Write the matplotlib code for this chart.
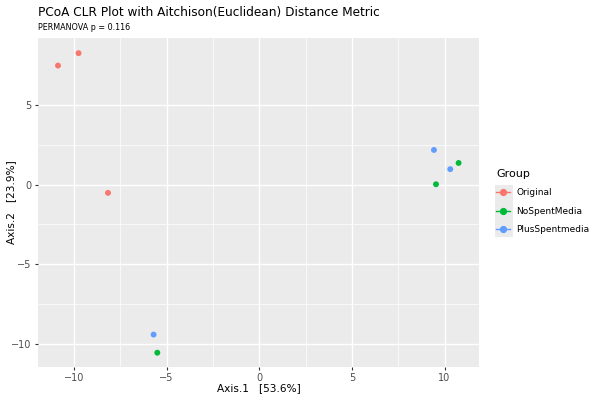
import matplotlib
matplotlib.use('Agg')
import matplotlib.pyplot as plt
from matplotlib.lines import Line2D
from matplotlib.patches import Rectangle

# ================= data =================
groups = ['Original', 'NoSpentMedia', 'PlusSpentmedia']
colors = ['#F8766D', '#00BA38', '#619CFF']
orig_x = [-10.86, -9.75, -8.16]
orig_y = [7.50, 8.28, -0.51]
nospent_x = [10.76, 9.54, -5.50]
nospent_y = [1.37, 0.03, -10.57]
plus_x = [9.43, 10.31, -5.70]
plus_y = [2.19, 0.98, -9.43]
xticks = [-10, -5, 0, 5, 10]
yticks = [-10, -5, 0, 5]
# ========================================

fig = plt.figure(figsize=(6, 4), dpi=100)
ax = fig.add_axes([0.0633, 0.0825, 0.7350, 0.8235])
ax.set_facecolor('#EBEBEB')
for s in ax.spines.values():
    s.set_visible(False)

ax.set_xlim(-11.94, 11.86)
ax.set_ylim(-11.47, 9.26)
ax.set_xticks(xticks)
ax.set_yticks(yticks)
ax.set_xticks([-7.5, -2.5, 2.5, 7.5], minor=True)
ax.set_yticks([-7.5, -2.5, 2.5], minor=True)
ax.grid(which='major', color='white', lw=1.0)
ax.grid(which='minor', color='white', lw=0.5)
ax.set_axisbelow(True)
ax.tick_params(which='major', length=2.5, width=0.8, color='#333333',
               labelsize=7, labelcolor='#4D4D4D', pad=2)
ax.tick_params(which='minor', length=0)

for xs, ys, c in [(orig_x, orig_y, colors[0]),
                  (nospent_x, nospent_y, colors[1]),
                  (plus_x, plus_y, colors[2])]:
    ax.scatter(xs, ys, s=18, color=c, edgecolors='none', zorder=3)

ax.set_xlabel('Axis.1   [53.6%]', fontsize=7.6)
ax.set_ylabel('Axis.2   [23.9%]', fontsize=7.6)
ax.xaxis.set_label_coords(0.501, -0.064)
ax.yaxis.set_label_coords(-0.061, 0.5)
ax.xaxis.label.set_va('center')
ax.yaxis.label.set_va('center')

fig.text(0.0633, 0.968, 'PCoA CLR Plot with Aitchison(Euclidean) Distance Metric',
         fontsize=8.7, va='center', ha='left')
fig.text(0.0633, 0.932, 'PERMANOVA p = 0.116', fontsize=5.8, va='center', ha='left')

# grey legend key background like ggplot
fig.patches.append(Rectangle((0.825, 0.4075), 0.03, 0.13, transform=fig.transFigure,
                             facecolor='#EBEBEB', edgecolor='none', zorder=0))

handles = [Line2D([0], [0], color=c, marker='o', markersize=4.2, lw=1.0)
           for c in colors]
leg = fig.legend(handles, groups, title='Group', loc='upper left',
                 bbox_to_anchor=(0.827, 0.578), frameon=False, fontsize=6.5,
                 title_fontsize=8, handlelength=1.5, handletextpad=0.7,
                 labelspacing=1.05, borderaxespad=0, borderpad=0)
leg._legend_box.align = 'left'

plt.savefig('out.png', dpi=100)
